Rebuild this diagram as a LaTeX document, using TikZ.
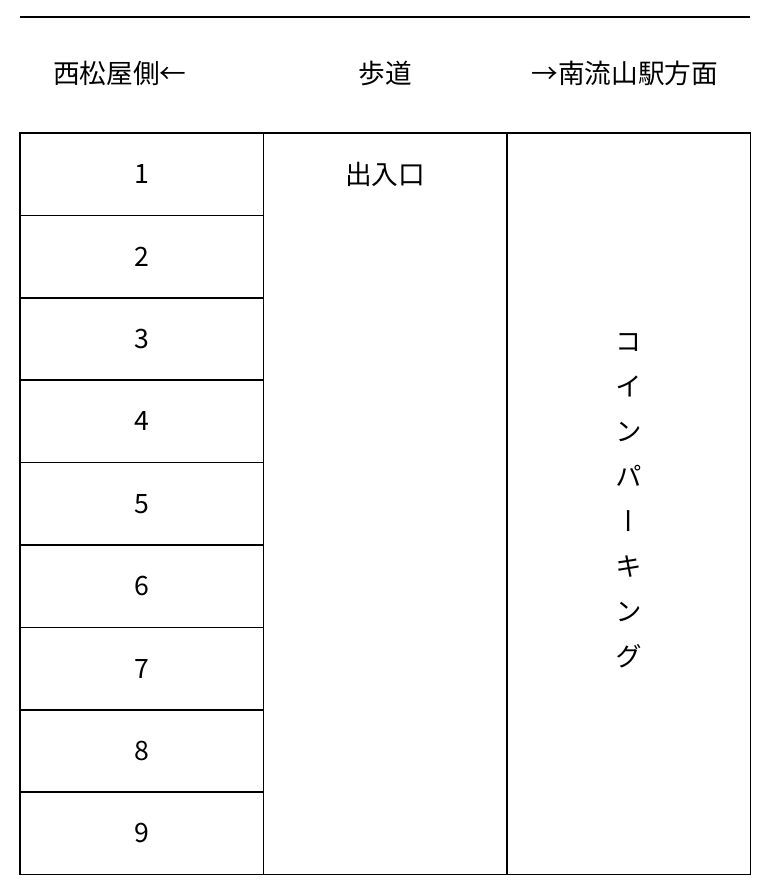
\documentclass[tikz,border=0pt]{standalone}
\usepackage{fontspec}
\newfontfamily\jp{Noto Sans CJK JP}
\newfontfamily\jpv[RawFeature=+vert]{Noto Sans CJK JP}
\usetikzlibrary{positioning}

\begin{document}
\begin{tikzpicture}[x=0.75pt, y=0.75pt,
every node/.style = {font=\jp\fontsize{20}{24}\selectfont},
      slot/.style = {draw, line width=1.1pt, inner sep=0pt, outer sep=0pt,
                     minimum width=182.6pt, minimum height=61.8pt},
      lane/.style = {slot, minimum height=556.2pt},
      head/.style = {inner sep=0pt}
                    ]
\useasboundingbox (0,0) rectangle (769,-890);

\node[slot] (s1) at (141.75,-174.2) {1};
\foreach \i [remember=\i as \j (initially 1)] in {2,...,9}
  \node[slot, below=0pt of s\j] (s\i) {\i};

\node[lane, anchor=north west] (walk) at (s1.north east) {};
\node[lane, anchor=north west] (park) at (walk.north east) {};
\node (gate) at (walk |- s1) {出入口};
\node[align=center, yshift=2.6pt, font=\jpv\fontsize{20}{33.75}\selectfont]
      (coin) at (park.center) {コ\\イ\\ン\\パ\\ー\\キ\\ン\\グ};

\node[head, anchor=west] (westside) at ([xshift=24.75pt, yshift=45pt]s1.north west) {西松屋側←};
\node[head] (walkway) at ([yshift=45pt]walk.north) {歩道};
\node[head, anchor=east] (station) at ([xshift=-24pt, yshift=45pt]park.north east) {→南流山駅方面};
\draw[line width=1.1pt] ([yshift=87pt]s1.north west) -- ([yshift=87pt]park.north east);
\end{tikzpicture}
\end{document}
